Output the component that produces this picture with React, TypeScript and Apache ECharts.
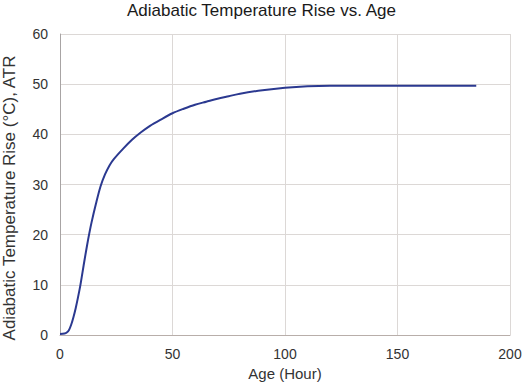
import React, { useEffect, useRef } from "react";
import * as echarts from "echarts";

const titleText = "Adiabatic Temperature Rise vs. Age";
const xName = "Age (Hour)";
const yName = "Adiabatic Temperature Rise (°C), ATR";

const ageHours = [0, 2, 3, 4, 5, 6, 7, 8, 9, 10, 11, 12, 13, 14, 16, 18, 20, 22, 24, 28, 32, 36, 40, 45, 50, 55, 60, 65, 70, 75, 80, 90, 100, 110, 120, 140, 160, 185];
const atrValues = [0.2, 0.3, 0.5, 1.0, 2.1, 3.6, 5.4, 7.5, 9.8, 12.5, 15.2, 17.8, 20.2, 22.4, 26.2, 29.6, 32.0, 33.8, 35.1, 37.1, 38.9, 40.4, 41.7, 43.0, 44.2, 45.1, 45.9, 46.5, 47.1, 47.6, 48.1, 48.8, 49.3, 49.6, 49.7, 49.7, 49.7, 49.7];

const xTicks = { min: 0, max: 200, interval: 50 };
const yTicks = { min: 0, max: 60, interval: 10 };

export default function App() {
  const ref = useRef<HTMLDivElement>(null);
  useEffect(() => {
    if (!ref.current) return;
    const chart = echarts.init(ref.current, undefined, { renderer: "svg" });
    const font = "Liberation Sans, Arial, sans-serif";
    chart.setOption({
      animation: false,
      backgroundColor: "#ffffff",
      textStyle: { fontFamily: font },
      title: {
        text: titleText,
        left: "center",
        top: 1,
        padding: 0,
        textStyle: { fontFamily: font, fontSize: 17, lineHeight: 18, fontWeight: "normal", color: "#1a1a1a" },
      },
      grid: { left: 60, right: 13, top: 34, bottom: 47, containLabel: false, outerBoundsMode: "none" },
      xAxis: {
        type: "value",
        min: xTicks.min,
        max: xTicks.max,
        interval: xTicks.interval,
        name: xName,
        nameLocation: "middle",
        nameGap: 30,
        nameTextStyle: { fontFamily: font, fontSize: 15, color: "#333" },
        axisLine: { show: true, lineStyle: { color: "#b8aeaa", width: 1 } },
        axisTick: { show: false },
        axisLabel: { fontFamily: font, fontSize: 14, color: "#333", margin: 12 },
        splitLine: { show: true, lineStyle: { color: "#dcd8d6", width: 1 } },
      },
      yAxis: {
        type: "value",
        min: yTicks.min,
        max: yTicks.max,
        interval: yTicks.interval,
        axisLine: { show: true, lineStyle: { color: "#a8a4a4", width: 1 } },
        axisTick: { show: false },
        axisLabel: { fontFamily: font, fontSize: 14, color: "#333", margin: 12 },
        splitLine: { show: true, lineStyle: { color: "#dcd8d6", width: 1 } },
      },
      graphic: [
        {
          type: "text",
          x: 9,
          y: 198,
          rotation: Math.PI / 2,
          style: {
            text: yName,
            fontFamily: font,
            fontSize: 17,
            fill: "#333",
            align: "center",
            verticalAlign: "middle",
          },
        },
      ],
      series: [
        {
          type: "line",
          data: ageHours.map((x, i) => [x, atrValues[i]]),
          smooth: 0.3,
          showSymbol: false,
          lineStyle: { color: "#2b3990", width: 2 },
          itemStyle: { color: "#2b3990" },
        },
      ],
    });
    return () => chart.dispose();
  }, []);
  return <div ref={ref} style={{ position: "fixed", left: 0, top: 0, width: 523, height: 382 }} />;
}
